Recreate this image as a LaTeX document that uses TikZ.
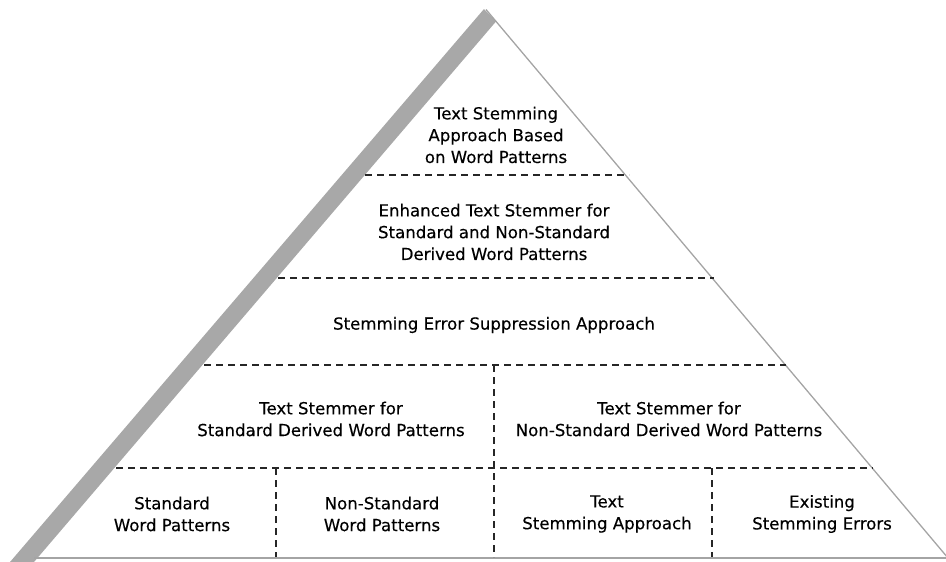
\documentclass[tikz,border=0pt]{standalone}
\usepackage{fontspec}
\setmainfont{DejaVu Sans}
\newfontfamily\layerfont{DejaVu Sans}[FakeBold=0.3]
\usetikzlibrary{calc}
\definecolor{bandgray}{HTML}{A8A8A8}
\definecolor{edgegray}{HTML}{A4A4A4}
\tikzset{
    divider/.style={line width=1.4pt, dash pattern=on 7pt off 5pt, black!85},
    layer/.style={align=center, inner sep=0pt, font=\layerfont\fontsize{16.6}{21.8}\selectfont, text=black}
}

\begin{document}
\begin{tikzpicture}[x=1pt, y=-1pt]
    \useasboundingbox (0, 0) rectangle (946, 562);
    % pyramid outline: thick band on the left, thin edges elsewhere
    \coordinate (apex) at (484, 9);
    \coordinate (bandtop) at (496, 21.5);
    \fill[bandgray] (apex) -- (10, 562) -- (34, 562) -- (bandtop) -- cycle;
    \draw[edgegray, line width=1.3pt] (486, 9.5) -- (948, 558);
    \draw[edgegray, line width=2pt] (34, 558) -- (948, 558);

    % horizontal dividers between the layers
    \coordinate (l1) at (365, 175);  \coordinate (r1) at (629, 175);
    \coordinate (l2) at (278, 278);  \coordinate (r2) at (714, 278);
    \coordinate (l3) at (204, 365);  \coordinate (r3) at (786, 365);
    \coordinate (l4) at (116, 468);  \coordinate (r4) at (873, 468);
    \foreach \i in {1,...,4}
        \draw[divider] (l\i) -- (r\i);

    % vertical dividers
    \coordinate (base) at (0, 557);
    \coordinate (v1) at (494, 365);
    \coordinate (v2) at (276, 468);
    \coordinate (v3) at (712, 468);
    \foreach \v in {v1, v2, v3}
        \draw[divider] (\v) -- (\v |- base);

    % layer texts
    \node[layer] (top) at (496, 135) {Text Stemming\\Approach Based\\on Word Patterns};
    \node[layer] (enhanced) at (494, 232) {Enhanced Text Stemmer for\\Standard and Non-Standard\\Derived Word Patterns};
    \node[layer] (suppress) at (494, 325) {Stemming Error Suppression Approach};
    \node[layer] (stdstem) at (331, 419) {Text Stemmer for\\Standard Derived Word Patterns};
    \node[layer] (nonstdstem) at (669, 419) {Text Stemmer for\\Non-Standard Derived Word Patterns};
    \node[layer] (std) at (172, 514) {Standard\\Word Patterns};
    \node[layer] (nonstd) at (382, 514) {Non-Standard\\Word Patterns};
    \node[layer] (stem) at (607, 514) {Text\\Stemming Approach};
    \node[layer] (errors) at (822, 514) {Existing\\Stemming Errors};
\end{tikzpicture}
\end{document}
